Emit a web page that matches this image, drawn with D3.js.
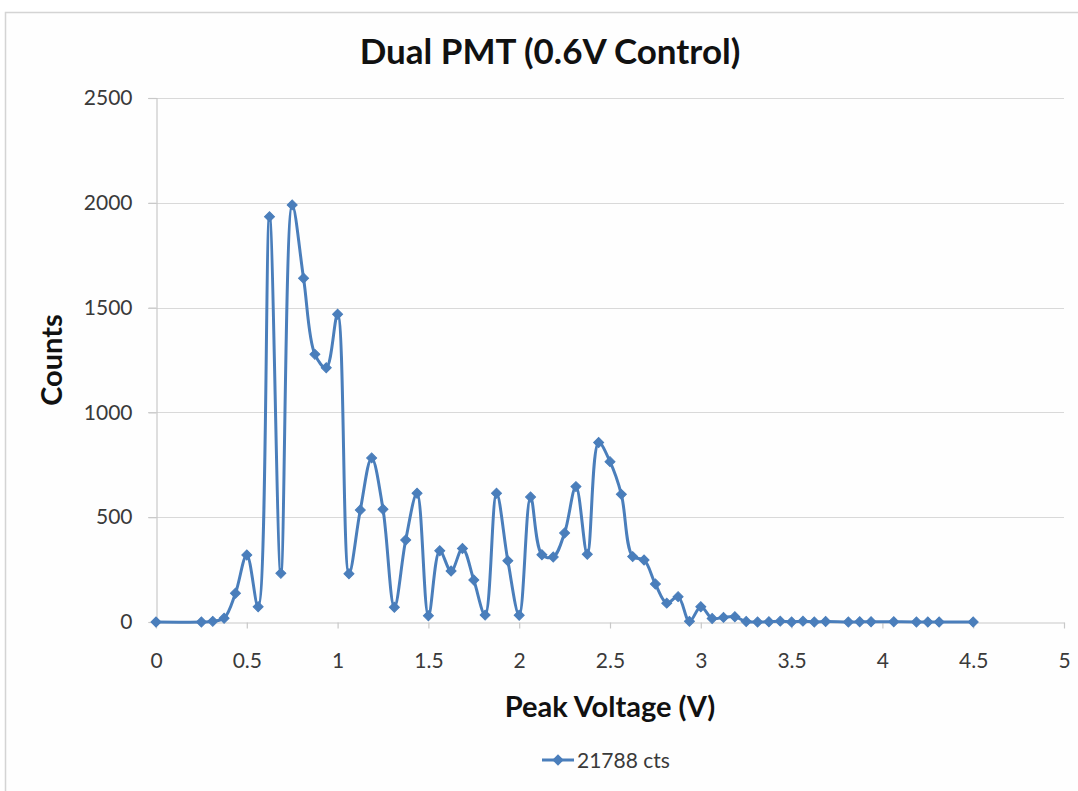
<!DOCTYPE html>
<html>
<head>
<meta charset="utf-8">
<script src="https://cdn.jsdelivr.net/npm/d3@7"></script>
<style>
  html, body { margin: 0; padding: 0; background: #ffffff; }
  svg { display: block; }
  text { font-family: Lato, "Open Sans", "Liberation Sans", sans-serif; }
</style>
</head>
<body>
<svg id="chart" width="1078" height="791"></svg>
<script>
// Pulse-height spectrum, dual PMT at 0.6 V control
const title = "Dual PMT (0.6V Control)";
const xTitle = "Peak Voltage (V)";
const yTitle = "Counts";
const seriesName = "21788 cts";

const voltage = [
  0, 0.25, 0.3125, 0.375, 0.4375, 0.5, 0.5625, 0.625, 0.6875, 0.75,
  0.8125, 0.875, 0.9375, 1.0, 1.0625, 1.125, 1.1875, 1.25, 1.3125, 1.375,
  1.4375, 1.5, 1.5625, 1.625, 1.6875, 1.75, 1.8125, 1.875, 1.9375, 2.0,
  2.0625, 2.125, 2.1875, 2.25, 2.3125, 2.375, 2.4375, 2.5, 2.5625, 2.625,
  2.6875, 2.75, 2.8125, 2.875, 2.9375, 3.0, 3.0625, 3.125, 3.1875, 3.25,
  3.3125, 3.375, 3.4375, 3.5, 3.5625, 3.625, 3.6875, 3.8125, 3.875, 3.9375,
  4.0625, 4.1875, 4.25, 4.3125, 4.5
];
const counts = [
  0, 0, 3, 18, 137, 320, 73, 1934, 232, 1990,
  1640, 1277, 1213, 1468, 230, 534, 783, 538, 70, 391,
  614, 30, 340, 243, 351, 200, 33, 614, 292, 32,
  596, 321, 310, 425, 646, 323, 856, 765, 609, 312,
  296, 181, 90, 121, 3, 73, 17, 22, 25, 2,
  0, 1, 4, 0, 4, 0, 2, 0, 1, 1,
  1, 0, 0, 0, 0
];
const xTicks = [0, 0.5, 1, 1.5, 2, 2.5, 3, 3.5, 4, 4.5, 5];
const yTicks = [0, 500, 1000, 1500, 2000, 2500];

const blue = "#4a7ebb";
const labelFont = "Lato, 'Open Sans', sans-serif";
const svg = d3.select("#chart");

// chart frame
svg.append("rect")
  .attr("x", 5.5).attr("y", 12.5)
  .attr("width", 1200).attr("height", 900)
  .attr("fill", "#fefefe")
  .attr("stroke", "#d4d4d4").attr("stroke-width", 1.5);

const plot = { left: 156, right: 1064, top: 98, bottom: 622 };

const x = d3.scaleLinear().domain([0, 5]).range([plot.left, plot.right]);
const y = d3.scaleLinear().domain([0, 2500]).range([plot.bottom, plot.top]);

// horizontal gridlines
svg.append("g")
  .selectAll("line")
  .data(yTicks.filter(d => d > 0))
  .join("line")
  .attr("x1", plot.left - 8).attr("x2", plot.right)
  .attr("y1", d => Math.round(y(d)) + 0.5).attr("y2", d => Math.round(y(d)) + 0.5)
  .attr("stroke", "#d9d9d9").attr("stroke-width", 1.2);

// y axis
const yAxis = svg.append("g")
  .attr("transform", `translate(${plot.left + 0.5},0)`)
  .call(d3.axisLeft(y).tickValues(yTicks).tickSize(8).tickPadding(16).tickFormat(d3.format("d")));
yAxis.select(".domain").attr("stroke", "#c8c8c8").attr("stroke-width", 1.2);
yAxis.selectAll(".tick line").attr("stroke", "#c8c8c8").attr("stroke-width", 1.2);
yAxis.selectAll(".tick text")
  .attr("fill", "#3a3a3a").attr("font-size", 21)
  .style("font-family", labelFont);

// x axis
const xAxis = svg.append("g")
  .attr("transform", `translate(0,${plot.bottom + 0.5})`)
  .call(d3.axisBottom(x).tickValues(xTicks).tickSize(6).tickSizeOuter(0).tickPadding(25).tickFormat(d3.format("")));
xAxis.select(".domain").attr("stroke", "#c8c8c8").attr("stroke-width", 1.2);
xAxis.selectAll(".tick line").attr("stroke", "#c8c8c8").attr("stroke-width", 1.2);
xAxis.selectAll(".tick text")
  .attr("fill", "#3a3a3a").attr("font-size", 21)
  .style("font-family", labelFont);

// smoothed series line
const pts = voltage.map((v, i) => [v, counts[i]]);
const line = d3.line()
  .x(d => x(d[0])).y(d => y(d[1]))
  .curve(d3.curveCatmullRom.alpha(0.5));
svg.append("path")
  .datum(pts)
  .attr("d", line)
  .attr("fill", "none")
  .attr("stroke", blue).attr("stroke-width", 3)
  .attr("stroke-linejoin", "round");

// diamond markers
const marker = d3.symbol().type(d3.symbolSquare).size(50);
svg.append("g")
  .selectAll("path")
  .data(pts)
  .join("path")
  .attr("transform", d => `translate(${x(d[0])},${y(d[1])}) rotate(45)`)
  .attr("d", marker)
  .attr("fill", blue).attr("stroke", blue).attr("stroke-width", 1);

// titles
svg.append("text")
  .attr("x", 550).attr("y", 64)
  .attr("text-anchor", "middle")
  .attr("font-size", 35).attr("font-weight", "bold").attr("fill", "#111")
  .text(title);

svg.append("text")
  .attr("x", 610).attr("y", 717)
  .attr("text-anchor", "middle")
  .attr("font-size", 29).attr("font-weight", "bold").attr("fill", "#111")
  .text(xTitle);

svg.append("text")
  .attr("transform", "translate(62,360) rotate(-90)")
  .attr("text-anchor", "middle")
  .attr("font-size", 29).attr("font-weight", "bold").attr("fill", "#111")
  .text(yTitle);

// legend
const lg = svg.append("g").attr("transform", "translate(542,760)");
lg.append("line")
  .attr("x1", 0).attr("x2", 32).attr("y1", 0).attr("y2", 0)
  .attr("stroke", blue).attr("stroke-width", 3);
lg.append("path")
  .attr("transform", "translate(16,0) rotate(45)")
  .attr("d", marker)
  .attr("fill", blue).attr("stroke", blue).attr("stroke-width", 1);
lg.append("text")
  .attr("x", 35).attr("y", 7.5)
  .attr("font-size", 21).attr("fill", "#3a3a3a")
  .text(seriesName);
</script>
</body>
</html>
